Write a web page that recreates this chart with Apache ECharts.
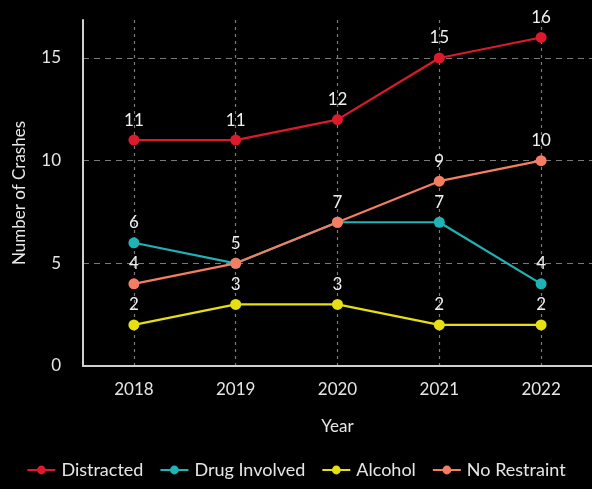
<!DOCTYPE html>
<html><head><meta charset="utf-8">
<script src="https://cdn.jsdelivr.net/npm/echarts@6/dist/echarts.min.js"></script>
<style>html,body{margin:0;padding:0;background:#000;}#c{width:592px;height:489px;}</style>
</head><body><div id="c"></div>
<script>
const years = ['2018','2019','2020','2021','2022'];
const distracted = [11, 11, 12, 15, 16];
const drugInvolved = [6, 5, 7, 7, 4];
const alcohol = [2, 3, 3, 2, 2];
const noRestraint = [4, 5, 7, 9, 10];
const yTicks = [0, 5, 10, 15];

const font = 'Lato';
function mk(name, data, color) {
  return {
    name, type: 'line', data, color,
    symbol: 'circle', symbolSize: 11,
    lineStyle: { width: 2.2, color },
    itemStyle: { color },
    label: { show: true, position: 'top', color: '#f0f0f0', fontSize: 17, fontFamily: font, distance: 6 },
    labelLayout: { hideOverlap: true }
  };
}
const chart = echarts.init(document.getElementById('c'));
chart.setOption({
  backgroundColor: '#000',
  animation: false,
  grid: { left: 83, right: -3, top: 20, bottom: 123, containLabel: false },
  xAxis: {
    type: 'category', data: years, boundaryGap: true,
    name: 'Year', nameLocation: 'middle', nameGap: 52,
    nameTextStyle: { color: '#e6e6e6', fontSize: 17, fontFamily: font },
    axisLine: { lineStyle: { color: '#d0d0d0', width: 2 } },
    axisTick: { show: false, alignWithLabel: true },
    axisLabel: { color: '#e6e6e6', fontSize: 17, fontFamily: font, margin: 15 },
    splitLine: { show: true, alignWithLabel: true, lineStyle: { color: '#7a7a7a', type: [3, 4], width: 1.2 } }
  },
  yAxis: {
    type: 'value', min: 0, max: 16.85, interval: 5,
    name: 'Number of Crashes', nameLocation: 'middle', nameGap: 55,
    nameTextStyle: { color: '#e6e6e6', fontSize: 17, fontFamily: font },
    axisLine: { show: true, lineStyle: { color: '#d0d0d0', width: 2 } },
    axisTick: { show: false },
    axisLabel: { color: '#e6e6e6', fontSize: 17, fontFamily: font, margin: 22,
      formatter: v => yTicks.includes(v) ? String(v) : '' },
    splitLine: { show: true, showMaxLine: false, lineStyle: { color: '#7a7a7a', type: [6, 5], width: 1.2 } }
  },
  legend: {
    bottom: 5, left: 'center', itemGap: 16, itemWidth: 28, itemHeight: 11,
    textStyle: { color: '#e6e6e6', fontSize: 18, fontFamily: font, padding: [0, 0, 0, 1] },
    data: ['Distracted', 'Drug Involved', 'Alcohol', 'No Restraint']
  },
  series: [
    mk('Distracted', distracted, '#dc1a2c'),
    mk('Drug Involved', drugInvolved, '#1fb3b5'),
    mk('Alcohol', alcohol, '#e6df12'),
    mk('No Restraint', noRestraint, '#f57d62')
  ]
});
</script></body></html>
